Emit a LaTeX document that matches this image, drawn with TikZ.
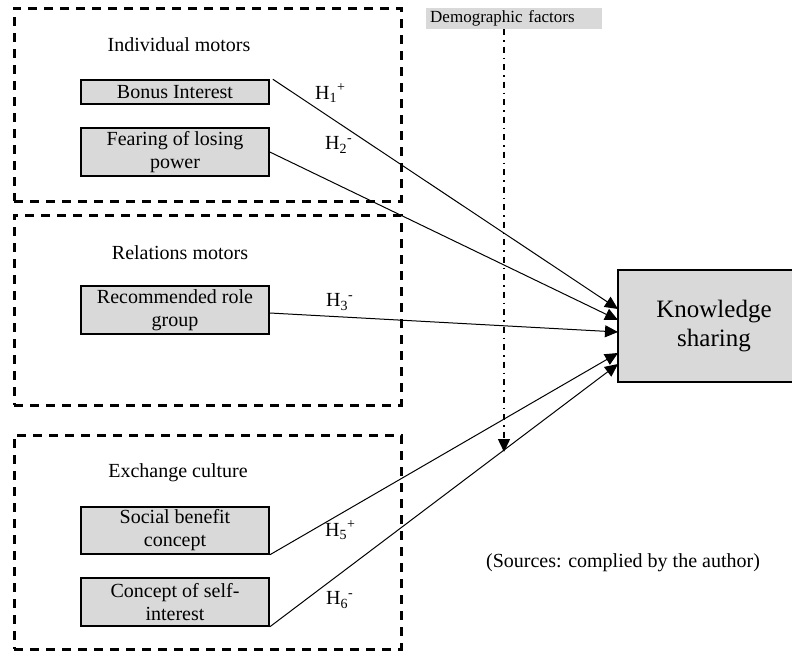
\documentclass[tikz,border=0pt]{standalone}
\usepackage{fontspec}
\setmainfont{Liberation Serif}
\usetikzlibrary{arrows.meta}
\definecolor{boxgray}{HTML}{D9D9D9}
\tikzset{
  groupbox/.style={draw, line width=3pt, dash pattern=on 9pt off 7pt, minimum width=387pt, minimum height=193pt, inner sep=0pt},
  factor/.style={draw, line width=1.6pt, fill=boxgray, minimum width=188pt, minimum height=24pt, inner sep=0pt, align=center, font=\fontsize{20}{23}\selectfont},
  ttl/.style={font=\fontsize{20}{23}\selectfont},
  hyp/.style={font=\fontsize{20}{23}\selectfont, anchor=west, inner sep=0pt},
  link/.style={line width=1pt, -{Triangle[length=13pt,width=12pt]}},
}
\begin{document}
\begin{tikzpicture}[x=1pt,y=-1pt]
\useasboundingbox (0,0) rectangle (792,656);
% group boxes
\node[groupbox] (g1) at (207.5,104.5) {};
\node[groupbox, minimum height=190pt] (g2) at (207.5,310) {};
\node[groupbox, minimum height=214pt] (g3) at (207.5,542) {};
% titles
\node[ttl] (t1) at (179,45) {Individual motors};
\node[ttl] (t2) at (180,253) {Relations motors};
\node[ttl] (t3) at (178,473) {Exchange culture};
% factors
\node[factor] (bonus) at (175,92) {Bonus Interest};
\node[factor, minimum height=48pt] (fear) at (175,152) {Fearing of losing\\power};
\node[factor, minimum height=48pt] (rec) at (175,310) {Recommended role\\group};
\node[factor, minimum height=47pt] (soc) at (175,530.5) {Social benefit\\concept};
\node[factor, minimum height=48pt] (self) at (175,602) {Concept of self-\\interest};
% knowledge sharing
\node[draw, line width=2pt, fill=boxgray, minimum width=192pt, minimum height=112pt, anchor=north west, inner sep=0pt, align=center, font=\fontsize{25}{29}\selectfont] (ks) at (617,269) {Knowledge\\sharing};
% demographic factors
\node[fill=boxgray, anchor=north west, minimum height=21pt, text width=168pt, inner xsep=4pt, inner ysep=0pt, align=left, font=\fontsize{17}{19}\selectfont] (demo) at (426,8) {Demographic factors};
% endpoints
\coordinate (e1) at (618,309);
\coordinate (e2) at (618,320);
\coordinate (e3) at (618,332);
\coordinate (e5) at (618,353);
\coordinate (e6) at (618,364);
\coordinate (ds) at (504,29);
\coordinate (dt) at (504,452);
% links
\draw[link] ([xshift=3pt]bonus.north east) -- (e1);
\draw[link] (fear.east) -- (e2);
\draw[link] ([yshift=-3pt]rec.east) -- (e3);
\draw[link] (soc.south east) -- (e5);
\draw[link] (self.south east) -- (e6);
\draw[line width=1.5pt, dash pattern=on 6pt off 5pt on 1.5pt off 5pt, -{Triangle[length=13pt,width=12pt]}] (ds) -- (dt);
% hypothesis labels
\node[hyp] (h1) at (315,93) {H\textsubscript{1}\textsuperscript{+}};
\node[hyp] (h2) at (325,145) {H\textsubscript{2}\textsuperscript{-}};
\node[hyp] (h3) at (326,302) {H\textsubscript{3}\textsuperscript{-}};
\node[hyp] (h5) at (325,530) {H\textsubscript{5}\textsuperscript{+}};
\node[hyp] (h6) at (326,600) {H\textsubscript{6}\textsuperscript{-}};
% source
\node[ttl] (src) at (623,563) {(Sources: complied by the author)};
\end{tikzpicture}
\end{document}
